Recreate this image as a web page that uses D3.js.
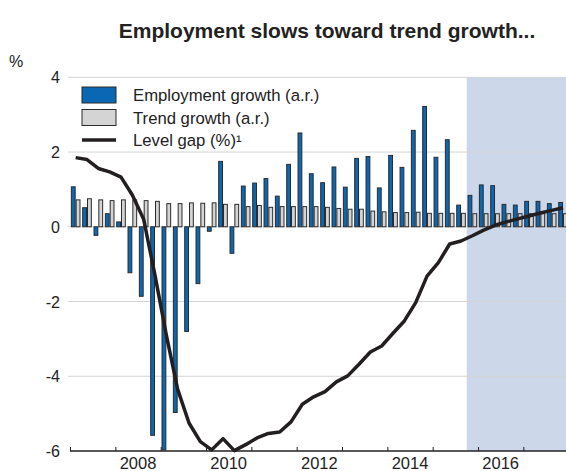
<!DOCTYPE html>
<html lang="en">
<head>
  <meta charset="UTF-8">
  <title>Employment slows toward trend growth</title>
  <script src="https://d3js.org/d3.v7.min.js"></script>
  <style>
    body { margin: 0; background: #fff; }
    svg { display: block; font-family: "Liberation Sans", Arial, sans-serif; }
  </style>
</head>
<body>
  <div id="chart"></div>
  <script>
    const quarters = [
      '2007Q1','2007Q2','2007Q3','2007Q4','2008Q1','2008Q2','2008Q3','2008Q4',
      '2009Q1','2009Q2','2009Q3','2009Q4','2010Q1','2010Q2','2010Q3','2010Q4',
      '2011Q1','2011Q2','2011Q3','2011Q4','2012Q1','2012Q2','2012Q3','2012Q4',
      '2013Q1','2013Q2','2013Q3','2013Q4','2014Q1','2014Q2','2014Q3','2014Q4',
      '2015Q1','2015Q2','2015Q3','2015Q4','2016Q1','2016Q2','2016Q3','2016Q4',
      '2017Q1','2017Q2','2017Q3','2017Q4'
    ];
    // employment growth, annualised rate
    const employment = [
      1.07, 0.51, -0.23, 0.35, 0.13, -1.23, -1.86, -5.58,
      -5.97, -4.97, -2.8, -1.52, -0.12, 1.75, -0.71, 1.09,
      1.17, 1.29, 0.82, 1.67, 2.51, 1.42, 1.18, 1.6,
      1.06, 1.83, 1.88, 1.04, 1.91, 1.59, 2.58, 3.22,
      1.86, 2.33, 0.58, 0.84, 1.12, 1.1, 0.6, 0.58,
      0.68, 0.68, 0.62, 0.65
    ];
    const trend = [
      0.72, 0.75, 0.72, 0.7, 0.72, 0.72, 0.7, 0.68,
      0.62, 0.62, 0.64, 0.63, 0.64, 0.6, 0.6, 0.54,
      0.57, 0.52, 0.54, 0.54, 0.54, 0.54, 0.52, 0.49,
      0.47, 0.47, 0.42, 0.4, 0.38, 0.38, 0.39, 0.36,
      0.36, 0.36, 0.36, 0.35, 0.35, 0.35, 0.35, 0.35,
      0.35, 0.35, 0.35, 0.35
    ];
    const levelGap = [
      1.85, 1.8, 1.56, 1.47, 1.33, 0.85, 0.2, -1.3,
      -2.9, -4.35, -5.25, -5.75, -5.97, -5.67, -5.99, -5.83,
      -5.65, -5.53, -5.49, -5.22, -4.75, -4.55, -4.41, -4.15,
      -3.99, -3.68, -3.35, -3.19, -2.85, -2.52, -2.03, -1.32,
      -0.96, -0.46, -0.38, -0.24, -0.09, 0.04, 0.13, 0.21,
      0.29, 0.37, 0.44, 0.51
    ];
    const yTicks = [-6, -4, -2, 0, 2, 4];
    const yearTicks = [2007, 2008, 2009, 2010, 2011, 2012, 2013, 2014, 2015, 2016, 2017];
    const yearLabels = [2008, 2010, 2012, 2014, 2016];
    const forecastStart = '2015Q4';
    const legendItems = ['Employment growth (a.r.)', 'Trend growth (a.r.)', 'Level gap (%)¹'];

    const W = 566, H = 471;
    const plotLeft = 70, plotRight = 568.7, plotTop = 77.3, plotBottom = 451;

    const svg = d3.select('#chart').append('svg')
      .attr('width', W).attr('height', H);

    const xYear = d3.scaleLinear().domain([2007, 2018]).range([plotLeft, plotRight]);
    const xq = d3.scaleBand().domain(quarters).range([plotLeft, plotRight])
      .paddingInner(0.15).paddingOuter(0.075);
    const bw = xq.bandwidth() / 2;
    const y = d3.scaleLinear().domain([-6, 4]).range([plotBottom, plotTop]);

    // forecast shading
    const shadeX = xYear(2007) + quarters.indexOf(forecastStart) * xq.step();
    svg.append('rect')
      .attr('x', shadeX)
      .attr('y', y(4))
      .attr('width', W - shadeX)
      .attr('height', y(-6) - y(4))
      .attr('fill', '#cdd7ea');

    // gridlines
    svg.append('g')
      .selectAll('line')
      .data(yTicks.filter(d => d !== -6))
      .join('line')
      .attr('x1', plotLeft - 2).attr('x2', W)
      .attr('y1', d => y(d)).attr('y2', d => y(d))
      .attr('stroke', '#d4d4d4').attr('stroke-width', 1);

    // y labels
    svg.append('g')
      .selectAll('text')
      .data(yTicks)
      .join('text')
      .attr('x', 60).attr('y', d => y(d) + 6)
      .attr('text-anchor', 'end')
      .attr('font-size', 16)
      .attr('fill', '#222')
      .text(d => d);

    svg.append('text').attr('x', 9).attr('y', 67)
      .attr('font-size', 16).attr('fill', '#222').text('%');

    // bars
    const bars = svg.append('g');
    bars.selectAll('rect.emp')
      .data(employment)
      .join('rect')
      .attr('class', 'emp')
      .attr('x', (d, i) => xq(quarters[i]) + 0.5)
      .attr('y', d => y(Math.max(0, d)))
      .attr('width', bw - 1)
      .attr('height', d => Math.abs(y(d) - y(0)))
      .attr('fill', '#0a67b3')
      .attr('stroke', '#2b2b2b').attr('stroke-width', 1);

    bars.selectAll('rect.trend')
      .data(trend)
      .join('rect')
      .attr('class', 'trend')
      .attr('x', (d, i) => xq(quarters[i]) + bw + 0.5)
      .attr('y', d => y(Math.max(0, d)))
      .attr('width', bw - 1)
      .attr('height', d => Math.abs(y(d) - y(0)))
      .attr('fill', '#d4d4d4')
      .attr('stroke', '#2b2b2b').attr('stroke-width', 1);

    // level gap line
    const line = d3.line()
      .x((d, i) => xq(quarters[i]) + xq.bandwidth() / 2)
      .y(d => y(d));
    svg.append('path')
      .datum(levelGap)
      .attr('d', line)
      .attr('fill', 'none')
      .attr('stroke', '#231f20')
      .attr('stroke-width', 3.5)
      .attr('stroke-linejoin', 'round');

    // x axis
    const xAxis = d3.axisBottom(xYear)
      .tickValues(yearTicks)
      .tickSize(-4)
      .tickSizeOuter(0)
      .tickFormat('');
    const gx = svg.append('g')
      .attr('transform', `translate(0,${plotBottom})`)
      .call(xAxis);
    gx.select('.domain').attr('d', `M${plotLeft},0H${W}`).attr('stroke', '#222').attr('stroke-width', 1.5);
    gx.selectAll('.tick line').attr('stroke', '#222');

    svg.append('g')
      .selectAll('text')
      .data(yearLabels)
      .join('text')
      .attr('x', d => xYear(d + 0.5))
      .attr('y', 469)
      .attr('text-anchor', 'middle')
      .attr('font-size', 16.5)
      .attr('fill', '#222')
      .text(d => d);

    // legend
    const lg = svg.append('g').attr('transform', 'translate(82,87)');
    lg.append('rect').attr('x', 0).attr('y', 0).attr('width', 34).attr('height', 16)
      .attr('fill', '#0a67b3').attr('stroke', '#2b2b2b');
    lg.append('rect').attr('x', 0).attr('y', 22.5).attr('width', 34).attr('height', 16)
      .attr('fill', '#d4d4d4').attr('stroke', '#2b2b2b');
    lg.append('line').attr('x1', 0).attr('x2', 34).attr('y1', 53).attr('y2', 53)
      .attr('stroke', '#231f20').attr('stroke-width', 3.5);
    lg.selectAll('text')
      .data(legendItems)
      .join('text')
      .attr('x', 51)
      .attr('y', (d, i) => 14 + i * 22.5)
      .attr('font-size', 16.7)
      .attr('fill', '#222')
      .text(d => d);

    // title
    svg.append('text')
      .attr('x', 327).attr('y', 38)
      .attr('text-anchor', 'middle')
      .attr('font-size', 21)
      .attr('font-weight', 'bold')
      .attr('fill', '#222')
      .text('Employment slows toward trend growth...');
  </script>
</body>
</html>
